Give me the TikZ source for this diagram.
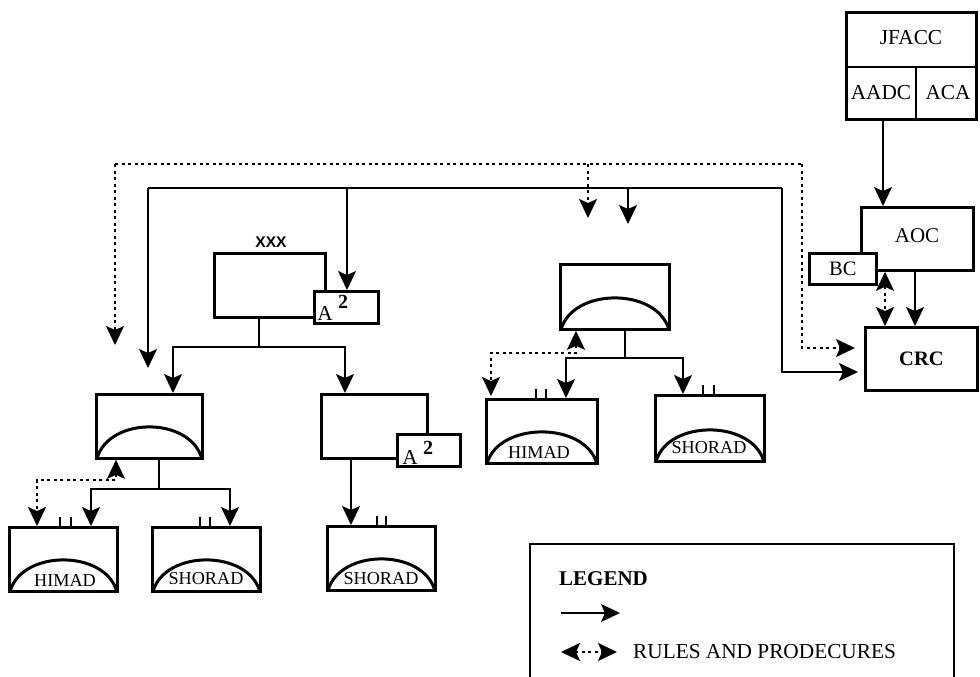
\documentclass[tikz,border=0pt]{standalone}
\usepackage{fontspec}
\setmainfont{Liberation Serif}
\newfontfamily\xxxfont{Liberation Sans}
\usetikzlibrary{arrows.meta}
\begin{document}
\begin{tikzpicture}[
            x=1pt, y=-1pt,
            >={Stealth[length=19pt, width=18pt, inset=4pt]},
            unit/.style={draw, line width=2.8pt, anchor=north west, inner sep=0pt, font=\fontsize{20.5}{22}\selectfont},
            small/.style={draw, line width=2.8pt, anchor=north west, inner sep=0pt, fill=white, minimum width=64pt, minimum height=32pt},
            dome/.style={line width=3pt},
            tickmark/.style={line width=2.8pt},
            plain/.style={line width=1.6pt},
            link/.style={plain, ->},
            dotline/.style={line width=2pt, dash pattern=on 3pt off 3.5pt},
            ruleto/.style={dotline, ->},
            rule/.style={dotline, <->},
            tag/.style={inner sep=0pt, font=\fontsize{18.2}{20}\selectfont},
            bigtag/.style={inner sep=0pt, font=\fontsize{21.3}{23}\selectfont}
        ]
            \useasboundingbox (0, 0) rectangle (980, 677);

            % top of the chain
            \node[unit, minimum width=130pt, minimum height=107pt] (jfacc) at (845, 11) {};
            \node[bigtag] (jfacctext) at (911, 38) {JFACC};
            \node[bigtag] (aadc) at (881, 93) {AADC};
            \node[bigtag] (aca) at (948, 93) {ACA};
            \coordinate (jl) at (846, 67);
            \coordinate (jr) at (976, 67);
            \coordinate (jm) at (916, 67);
            \draw[line width=2.8pt] (jl)--(jr);
            \draw[line width=2.8pt] (jm)--(916, 0 |- jfacc.south);

            \node[unit, minimum width=112pt, minimum height=63pt] (aoc) at (860, 206) {};
            \node[bigtag, font=\fontsize{21}{23}\selectfont] (aoctext) at (917, 236) {AOC};
            \node[unit, fill=white, minimum width=67pt, minimum height=31pt] (bc) at (808, 252) {BC};
            \node[unit, minimum width=112pt, minimum height=63pt, font=\bfseries\fontsize{20.5}{22}\selectfont] (crc) at (864, 326) {CRC};

            % corps and its units
            \node[unit, minimum width=111pt, minimum height=64pt] (corps) at (213, 252) {};
            \node[small] (acorps) at (313, 290) {};
            \node[bigtag] (acorpstext) at (325, 313) {A};
            \node[bigtag, font=\bfseries\fontsize{20}{22}\selectfont] (acorpstwo) at (343, 302) {2};
            \node[inner sep=0pt, font=\xxxfont\bfseries\fontsize{15.5}{17}\selectfont] (xxx) at (271, 242) {XXX};

            \node[unit, minimum width=106pt, minimum height=64pt] (ada) at (95, 393) {};
            \node[unit, minimum width=106pt, minimum height=64pt] (div) at (320, 393) {};
            \node[small, minimum width=63pt] (adiv) at (396, 433) {};
            \node[bigtag] (adivtext) at (410, 457) {A};
            \node[bigtag, font=\bfseries\fontsize{20}{22}\selectfont] (adivtwo) at (428, 448) {2};
            \node[unit, minimum width=109pt, minimum height=65pt] (eac) at (559, 263) {};

            \node[unit, minimum width=108pt, minimum height=64pt] (himada) at (8, 526) {};
            \node[unit, minimum width=108pt, minimum height=64pt] (shorada) at (151, 526) {};
            \node[unit, minimum width=108pt, minimum height=64pt] (shoradb) at (326, 525) {};
            \node[unit, minimum width=111pt, minimum height=64pt] (himadc) at (485, 398) {};
            \node[unit, minimum width=109pt, minimum height=66pt] (shoradc) at (654, 394) {};

            \foreach \n in {ada, eac, himada, shorada, shoradb, himadc, shoradc}
                \draw[dome] ([xshift=2pt, yshift=1.4pt]\n.south west) .. controls +(12, -42) and +(-12, -42) .. ([xshift=-2pt, yshift=1.4pt]\n.south east);

            \node[tag] (himadatext) at (65, 581) {HIMAD};
            \node[tag] (shoradatext) at (206, 579) {SHORAD};
            \node[tag] (shoradbtext) at (381, 579) {SHORAD};
            \node[tag] (himadctext) at (539, 453) {HIMAD};
            \node[tag] (shoradctext) at (709, 448) {SHORAD};

            % little marks on top of the lowest boxes
            \foreach \a/\n in {60/himada, 71/himada, 200/shorada, 210/shorada, 377/shoradb, 386/shoradb, 536/himadc, 546/himadc, 703/shoradc, 714/shoradc}
                \draw[tickmark] (\a, 0 |- \n.north)--++(0, -9);

            % solid links
            \draw[link] (883, 0 |- jfacc.south)--(883, 0 |- aoc.north);
            \draw[link] (915, 0 |- aoc.south)--(915, 0 |- crc.north);
            \coordinate (ls) at (148, 188);
            \coordinate (rs) at (782, 188);
            \draw[plain] (ls)--(rs);
            \draw[link] (rs)--(782, 372)--(858, 372);
            \draw[link] (ls)--(148, 368);
            \draw[link] (347, 188)--(347, 0 |- acorps.north);
            \draw[link] (628, 188)--(628, 224);

            \coordinate (corpsfork) at (259, 347);
            \draw[plain] (259, 0 |- corps.south)--(corpsfork);
            \draw[link] (corpsfork)--(173, 347)--(173, 0 |- ada.north);
            \draw[link] (corpsfork)--(345, 347)--(345, 0 |- div.north);
            \coordinate (adafork) at (159, 489);
            \draw[plain] (159, 0 |- ada.south)--(adafork);
            \draw[link] (adafork)--(91, 489)--(91, 0 |- himada.north);
            \draw[link] (adafork)--(230, 489)--(230, 0 |- shorada.north);
            \draw[link] (351, 0 |- div.south)--(351, 0 |- shoradb.north);
            \coordinate (eacfork) at (625, 358);
            \draw[plain] (625, 0 |- eac.south)--(eacfork);
            \draw[link] (eacfork)--(566, 358)--(566, 0 |- himadc.north);
            \draw[link] (eacfork)--(683, 358)--(683, 0 |- shoradc.north);

            % dotted links
            \coordinate (ld) at (115, 164);
            \coordinate (rd) at (802, 164);
            \draw[dotline] (ld)--(rd);
            \draw[ruleto] (ld)--(115, 345);
            \draw[ruleto] (rd)--(802, 348)--(855, 348);
            \draw[ruleto] (588, 164)--(588, 218);
            \draw[rule] (885, 0 |- aoc.south)--(885, 0 |- crc.north);
            \draw[rule] (116, 0 |- ada.south)--(116, 480)--(37, 480)--(37, 0 |- himada.north);
            \draw[rule] (576, 0 |- eac.south)--(576, 353)--(491, 353)--(491, 396);

            % legend, cut by the bottom of the page
            \coordinate (lga) at (530, 677);
            \coordinate (lgb) at (530, 544);
            \coordinate (lgc) at (954, 544);
            \coordinate (lgd) at (954, 677);
            \draw[line width=1.8pt] (lga)--(lgb)--(lgc)--(lgd);
            \node[inner sep=0pt, anchor=west, font=\bfseries\fontsize{21}{23}\selectfont] (legend) at (559, 579) {LEGEND};
            \coordinate (lg1) at (561, 613);
            \coordinate (lg2) at (620, 613);
            \draw[link] (lg1)--(lg2);
            \coordinate (lg3) at (561, 652);
            \coordinate (lg4) at (617, 652);
            \draw[rule] (lg3)--(lg4);
            \node[bigtag, anchor=west] (rules) at (633, 652) {RULES AND PRODECURES};

        \end{tikzpicture}
\end{document}
